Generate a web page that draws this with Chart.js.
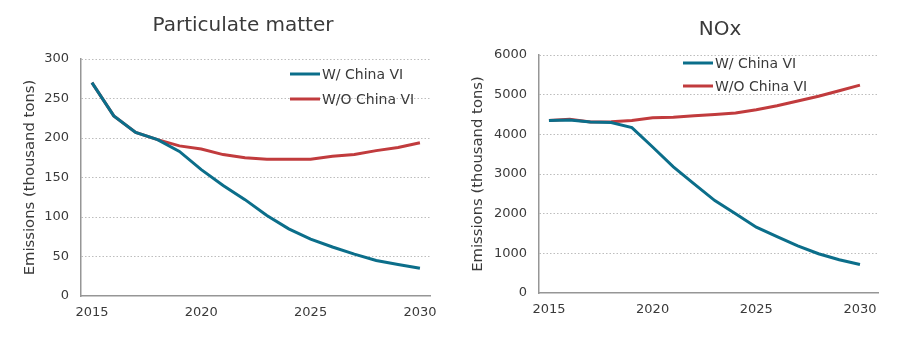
<!DOCTYPE html>
<html>
<head>
<meta charset="utf-8">
<script src="https://cdn.jsdelivr.net/npm/chart.js@4.4.1/dist/chart.umd.min.js"></script>
<style>
  html, body { margin: 0; padding: 0; background: #fff; }
  .wrap { display: flex; width: 900px; height: 364px; }
  .box { position: relative; width: 450px; height: 364px; }
</style>
</head>
<body>
<div class="wrap">
  <div class="box"><canvas id="pmChart"></canvas></div>
  <div class="box"><canvas id="noxChart"></canvas></div>
</div>
<script>
// Chart data
const years = [2015, 2016, 2017, 2018, 2019, 2020, 2021, 2022, 2023, 2024, 2025, 2026, 2027, 2028, 2029, 2030];
const yearTicks = [2015, 2020, 2025, 2030];
const seriesNames = ['W/ China VI', 'W/O China VI'];

const pmWith    = [270, 228, 207, 198, 183, 160, 140, 122, 102, 85, 72, 62, 53, 45, 40, 35];
const pmWithout = [270, 228, 207, 198, 190, 186, 179, 175, 173, 173, 173, 177, 179, 184, 188, 194];

const noxWith    = [4350, 4360, 4310, 4300, 4170, 3680, 3180, 2750, 2330, 2000, 1660, 1420, 1190, 990, 840, 720];
const noxWithout = [4350, 4380, 4310, 4320, 4350, 4420, 4430, 4470, 4500, 4540, 4620, 4720, 4840, 4960, 5100, 5240];

const BLUE = '#0b6e8a';
const RED = '#c13b3d';
const TEXT = '#3a3a3a';
const FONT = "'DejaVu Sans', 'Open Sans', sans-serif";

// Title and legend drawn at fixed spots, like the original layout
const extras = {
    id: 'extras',
    afterDraw(chart, args, opts) {
        const ctx = chart.ctx;
        ctx.save();
        ctx.fillStyle = TEXT;
        ctx.textAlign = 'center';
        ctx.textBaseline = 'middle';
        ctx.font = '20px ' + FONT;
        ctx.fillText(opts.title, opts.titleX, opts.titleY);

        ctx.textAlign = 'left';
        ctx.font = '14px ' + FONT;
        chart.data.datasets.forEach(function(ds, i) {
            const y = opts.legendY + i * opts.legendGap;
            ctx.strokeStyle = ds.borderColor;
            ctx.lineWidth = 3;
            ctx.beginPath();
            ctx.moveTo(opts.legendX, y);
            ctx.lineTo(opts.legendX + 30, y);
            ctx.stroke();
            ctx.fillText(ds.label, opts.legendX + 32, y + 1);
        });
        ctx.restore();
    }
};

function toPoints(values) {
    return values.map(function(v, i) { return { x: years[i], y: v }; });
}

function createChart(id, cfg) {
    const ctx = document.getElementById(id).getContext('2d');
    return new Chart(ctx, {
        type: 'line',
        data: {
            datasets: [{
                label: seriesNames[0],
                data: toPoints(cfg.withData),
                borderColor: BLUE,
                borderWidth: 3,
                pointRadius: 0,
                tension: 0
            }, {
                label: seriesNames[1],
                data: toPoints(cfg.withoutData),
                borderColor: RED,
                borderWidth: 3,
                pointRadius: 0,
                tension: 0
            }]
        },
        options: {
            responsive: true,
            maintainAspectRatio: false,
            animation: false,
            layout: {
                padding: { left: 0, right: cfg.padRight, top: cfg.padTop, bottom: 0 }
            },
            scales: {
                x: {
                    type: 'linear',
                    min: cfg.xMin,
                    max: cfg.xMax,
                    afterBuildTicks: function(scale) {
                        scale.ticks = yearTicks.map(function(v) { return { value: v }; });
                    },
                    afterFit: function(scale) { scale.height = cfg.xHeight; },
                    grid: { display: false, drawTicks: false },
                    border: { display: true, color: '#969696', width: 1.5 },
                    ticks: {
                        padding: 9,
                        color: TEXT,
                        font: { family: FONT, size: 13 },
                        maxRotation: 0,
                        callback: function(v) { return String(v); }
                    }
                },
                y: {
                    min: 0,
                    max: cfg.yMax,
                    afterFit: function(scale) { scale.width = cfg.yWidth; },
                    ticks: {
                        stepSize: cfg.yStep,
                        padding: 12,
                        color: TEXT,
                        font: { family: FONT, size: 13 },
                        callback: function(v) { return String(v); }
                    },
                    grid: {
                        drawTicks: false,
                        color: function(c) { return c.tick.value === 0 ? 'rgba(0,0,0,0)' : '#bdbdbd'; },
                        lineWidth: 1
                    },
                    border: { display: true, color: '#969696', width: 1.5, dash: [1.5, 2] },
                    title: {
                        display: true,
                        text: 'Emissions (thousand tons)',
                        color: TEXT,
                        font: { family: FONT, size: 14.8 },
                        padding: { top: cfg.yTitleOffset, bottom: 0 }
                    }
                }
            },
            plugins: {
                legend: { display: false },
                tooltip: { enabled: false },
                title: { display: false },
                extras: cfg.extras
            }
        },
        plugins: [extras]
    });
}

createChart('pmChart', {
    withData: pmWith,
    withoutData: pmWithout,
    yMax: 300,
    yStep: 50,
    yWidth: 81,
    yTitleOffset: 21,
    xHeight: 68,
    padRight: 20,
    padTop: 59,
    xMin: 2014.5,
    xMax: 2030.46,
    extras: { title: 'Particulate matter', titleX: 243, titleY: 26, legendX: 290, legendY: 74, legendGap: 25 }
});

createChart('noxChart', {
    withData: noxWith,
    withoutData: noxWithout,
    yMax: 6000,
    yStep: 1000,
    yWidth: 89,
    yTitleOffset: 19,
    xHeight: 71,
    padRight: 22,
    padTop: 55,
    xMin: 2014.52,
    xMax: 2030.87,
    extras: { title: 'NOx', titleX: 270, titleY: 30, legendX: 233, legendY: 63, legendGap: 23 }
});
</script>
</body>
</html>
